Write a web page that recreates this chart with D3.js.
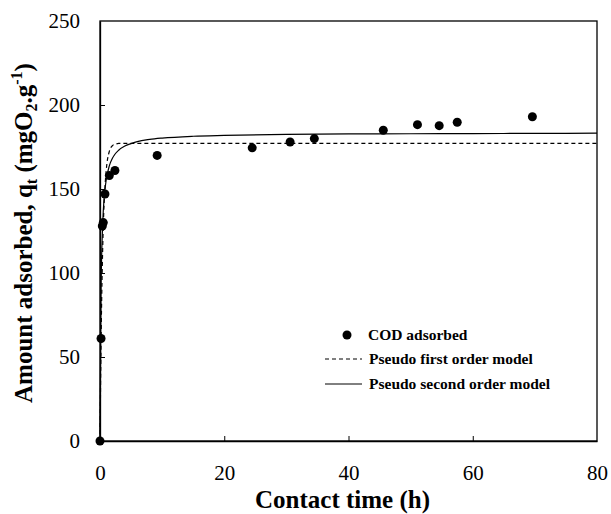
<!DOCTYPE html>
<html>
<head>
<meta charset="utf-8">
<script src="https://cdn.jsdelivr.net/npm/d3@7"></script>
<style>
  body { margin: 0; background: #fff; }
</style>
</head>
<body>
<div class="chart"></div>
<script>
// Measured COD adsorbed (time in h, q in mgO2/g)
const obsTime = [0, 0.17, 0.37, 0.53, 0.8, 1.5, 2.4, 9.2, 24.5, 30.6, 34.5, 45.6, 51.1, 54.6, 57.5, 69.6]
const obsQ = [0, 61, 128, 130, 147, 158, 161, 170, 174.5, 178, 180, 185, 188.3, 187.7, 189.7, 193]

// Model curves
const modelTime = [0, 0.17, 0.37, 0.53, 0.8, 1, 1.5, 2, 2.4, 3, 4, 5, 6, 8, 10, 15, 20, 30, 40, 50, 60, 70, 80]
const firstOrder = [0, 59, 104, 128, 151, 161, 172.4, 175.8, 176.6, 177.1, 177.2, 177.2, 177.2, 177.2, 177.2, 177.2, 177.2, 177.2, 177.2, 177.2, 177.2, 177.2, 177.2]
const secondOrder = [0, 89, 123, 137, 149.6, 155.4, 163.8, 168.3, 170.7, 173.1, 175.6, 177, 178.2, 179.5, 180.3, 181.4, 181.9, 182.5, 182.8, 182.9, 183, 183.1, 183.2]

const xTicks = [0, 20, 40, 60, 80]
const yTicks = [0, 50, 100, 150, 200, 250]

const serif = "'Liberation Serif'"
const width = 611
const height = 514
const margin = {top: 21, right: 14, bottom: 73, left: 100}
const w = width - margin.left - margin.right
const h = height - margin.top - margin.bottom

const svg = d3.select('.chart')
    .append('svg')
    .attr('width', width)
    .attr('height', height)

const g = svg.append('g')
    .attr('transform', 'translate(' + margin.left + ',' + margin.top + ')')

const x = d3.scaleLinear().domain([0, 80]).range([0, w])
const y = d3.scaleLinear().domain([0, 250]).range([h, 0])

// frame
g.append('rect')
    .attr('width', w).attr('height', h)
    .attr('fill', 'none').attr('stroke', '#000').attr('stroke-width', 1.3)

// axes with inward ticks
const xAxis = g.append('g')
    .attr('transform', 'translate(0,' + h + ')')
    .call(d3.axisBottom(x).tickValues(xTicks).tickSizeInner(-5).tickSizeOuter(0).tickPadding(24))
const yAxis = g.append('g')
    .call(d3.axisLeft(y).tickValues(yTicks).tickSizeInner(-5).tickSizeOuter(0).tickPadding(20))

;[xAxis, yAxis].forEach(a => {
    a.attr('font-family', serif).attr('font-size', 21)
    a.select('.domain').attr('stroke', '#000').attr('stroke-width', 1.3)
    a.selectAll('.tick line').attr('stroke', '#000')
    a.selectAll('.tick text')
        .style('font-family', serif)
        .attr('font-size', 21)
        .attr('fill', '#000')
})
xAxis.selectAll('.tick').filter(d => d === 0 || d === 80).select('line').remove()
yAxis.selectAll('.tick').filter(d => d === 0 || d === 250).select('line').remove()

const line = d3.line()
    .x(d => x(d[0]))
    .y(d => y(d[1]))
    .curve(d3.curveMonotoneX)

g.append('path')
    .datum(modelTime.map((t, i) => [t, firstOrder[i]]))
    .attr('d', line)
    .attr('fill', 'none').attr('stroke', '#000').attr('stroke-width', 1.2)
    .attr('stroke-dasharray', '4,3')

g.append('path')
    .datum(modelTime.map((t, i) => [t, secondOrder[i]]))
    .attr('d', line)
    .attr('fill', 'none').attr('stroke', '#000').attr('stroke-width', 1.2)

g.selectAll('circle.obs')
    .data(obsTime.map((t, i) => [t, obsQ[i]]))
    .enter()
    .append('circle')
    .attr('class', 'obs')
    .attr('cx', d => x(d[0]))
    .attr('cy', d => y(d[1]))
    .attr('r', 4.5)
    .attr('fill', '#000')

// legend
const legend = svg.append('g')
legend.append('circle').attr('cx', 347).attr('cy', 335).attr('r', 4.5).attr('fill', '#000')
legend.append('text').attr('x', 368).attr('y', 340).text('COD adsorbed')
legend.append('line').attr('x1', 325).attr('x2', 362).attr('y1', 359).attr('y2', 359)
    .attr('stroke', '#000').attr('stroke-dasharray', '4,3')
legend.append('text').attr('x', 369).attr('y', 364).text('Pseudo first order model')
legend.append('line').attr('x1', 325).attr('x2', 362).attr('y1', 384).attr('y2', 384)
    .attr('stroke', '#000')
legend.append('text').attr('x', 369).attr('y', 389).text('Pseudo second order model')
legend.selectAll('text')
    .style('font-family', serif)
    .attr('font-size', 15.5).attr('font-weight', 'bold')

// axis titles
svg.append('text')
    .attr('x', margin.left + w / 2 - 6).attr('y', 508)
    .attr('text-anchor', 'middle')
    .style('font-family', serif)
    .attr('font-size', 25).attr('font-weight', 'bold')
    .text('Contact time (h)')

const yl = svg.append('text')
    .attr('transform', 'translate(32,' + (margin.top + h / 2 + 2) + ') rotate(-90)')
    .attr('text-anchor', 'middle')
    .style('font-family', serif)
    .attr('font-size', 25).attr('font-weight', 'bold')
yl.append('tspan').text('Amount adsorbed, q')
yl.append('tspan').attr('font-size', 16).attr('dy', 5).text('t')
yl.append('tspan').attr('dy', -5).text(' (mgO')
yl.append('tspan').attr('font-size', 16).attr('dy', 5).text('2')
yl.append('tspan').attr('dy', -5).text('.g')
yl.append('tspan').attr('font-size', 16).attr('dy', -10).text('-1')
yl.append('tspan').attr('dy', 10).text(')')
</script>
</body>
</html>
